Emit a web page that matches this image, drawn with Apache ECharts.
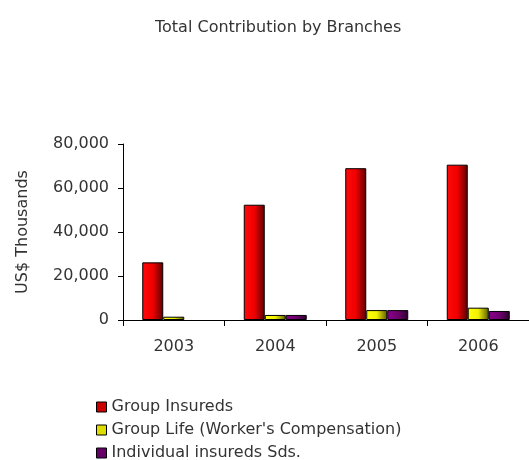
<!DOCTYPE html>
<html>
<head>
<meta charset="utf-8">
<script src="https://cdn.jsdelivr.net/npm/echarts@6/dist/echarts.min.js"></script>
<style>
html,body{margin:0;padding:0;background:#fff;}
#c{width:529px;height:460px;}
</style>
</head>
<body>
<div id="c"></div>
<script>
var categories = ['2003', '2004', '2005', '2006'];
var groupInsureds = [26200, 52400, 69000, 70600];
var groupLife = [1500, 2300, 4500, 5600];
var individualInsureds = [null, 2300, 4500, 4100];
var seriesNames = ['Group Insureds', "Group Life (Worker's Compensation)", 'Individual insureds Sds.'];
var yTicks = [0, 20000, 40000, 60000, 80000];

function grad(c0, c1, c2) {
  return new echarts.graphic.LinearGradient(0, 0, 1, 0, [
    {offset: 0, color: c0}, {offset: 0.5, color: c1}, {offset: 1, color: c2}
  ]);
}
var font = 'DejaVu Sans';
var chart = echarts.init(document.getElementById('c'), null, {renderer: 'canvas'});
var barStyle = function (g) { return {color: g, borderColor: '#000', borderWidth: 1}; };
chart.setOption({
  animation: false,
  backgroundColor: '#fff',
  title: {
    text: 'Total Contribution by Branches',
    left: 155, top: 20, padding: 0,
    textStyle: {fontFamily: font, fontSize: 16, fontWeight: 'normal', color: '#333'}
  },
  legend: {
    orient: 'vertical', left: 96, top: 399, height: 90, padding: 0,
    itemWidth: 10, itemHeight: 10, itemGap: 7,
    textStyle: {fontFamily: font, fontSize: 16, color: '#333'},
    data: [
      {name: seriesNames[0], icon: 'rect', itemStyle: {color: '#cc0000', borderColor: '#000', borderWidth: 1}},
      {name: seriesNames[1], icon: 'rect', itemStyle: {color: '#dddd00', borderColor: '#000', borderWidth: 1}},
      {name: seriesNames[2], icon: 'rect', itemStyle: {color: '#660066', borderColor: '#000', borderWidth: 1}}
    ]
  },
  grid: {left: 123, right: 0, top: 144, bottom: 140, containLabel: false},
  xAxis: {
    type: 'category', data: categories, boundaryGap: true,
    axisLine: {lineStyle: {color: '#000', width: 1}},
    axisTick: {show: true, length: 6, alignWithLabel: false, lineStyle: {color: '#000'}},
    axisLabel: {fontFamily: font, fontSize: 16, color: '#333', margin: 19}
  },
  yAxis: {
    type: 'value', min: yTicks[0], max: yTicks[yTicks.length - 1], interval: yTicks[1] - yTicks[0],
    name: 'US$ Thousands', nameLocation: 'middle', nameRotate: 90, nameGap: 92,
    nameTextStyle: {fontFamily: font, fontSize: 16, color: '#333'},
    axisLine: {show: true, lineStyle: {color: '#000', width: 1}},
    axisTick: {show: true, length: 5, lineStyle: {color: '#000'}},
    splitLine: {show: false},
    axisLabel: {
      fontFamily: font, fontSize: 16, color: '#333', margin: 14,
      formatter: function (v) { return v.toLocaleString('en-US'); }
    }
  },
  series: [
    {name: seriesNames[0], type: 'bar', data: groupInsureds, barWidth: 21, barGap: '0%',
     itemStyle: barStyle(grad('#ff0a0a', '#f00000', '#5a0000'))},
    {name: seriesNames[1], type: 'bar', data: groupLife, barWidth: 21, barGap: '0%',
     itemStyle: barStyle(grad('#ffff10', '#f0f000', '#5a5a00'))},
    {name: seriesNames[2], type: 'bar', data: individualInsureds, barWidth: 21, barGap: '0%',
     itemStyle: barStyle(grad('#880088', '#700070', '#2a002a'))}
  ]
});
</script>
</body>
</html>
